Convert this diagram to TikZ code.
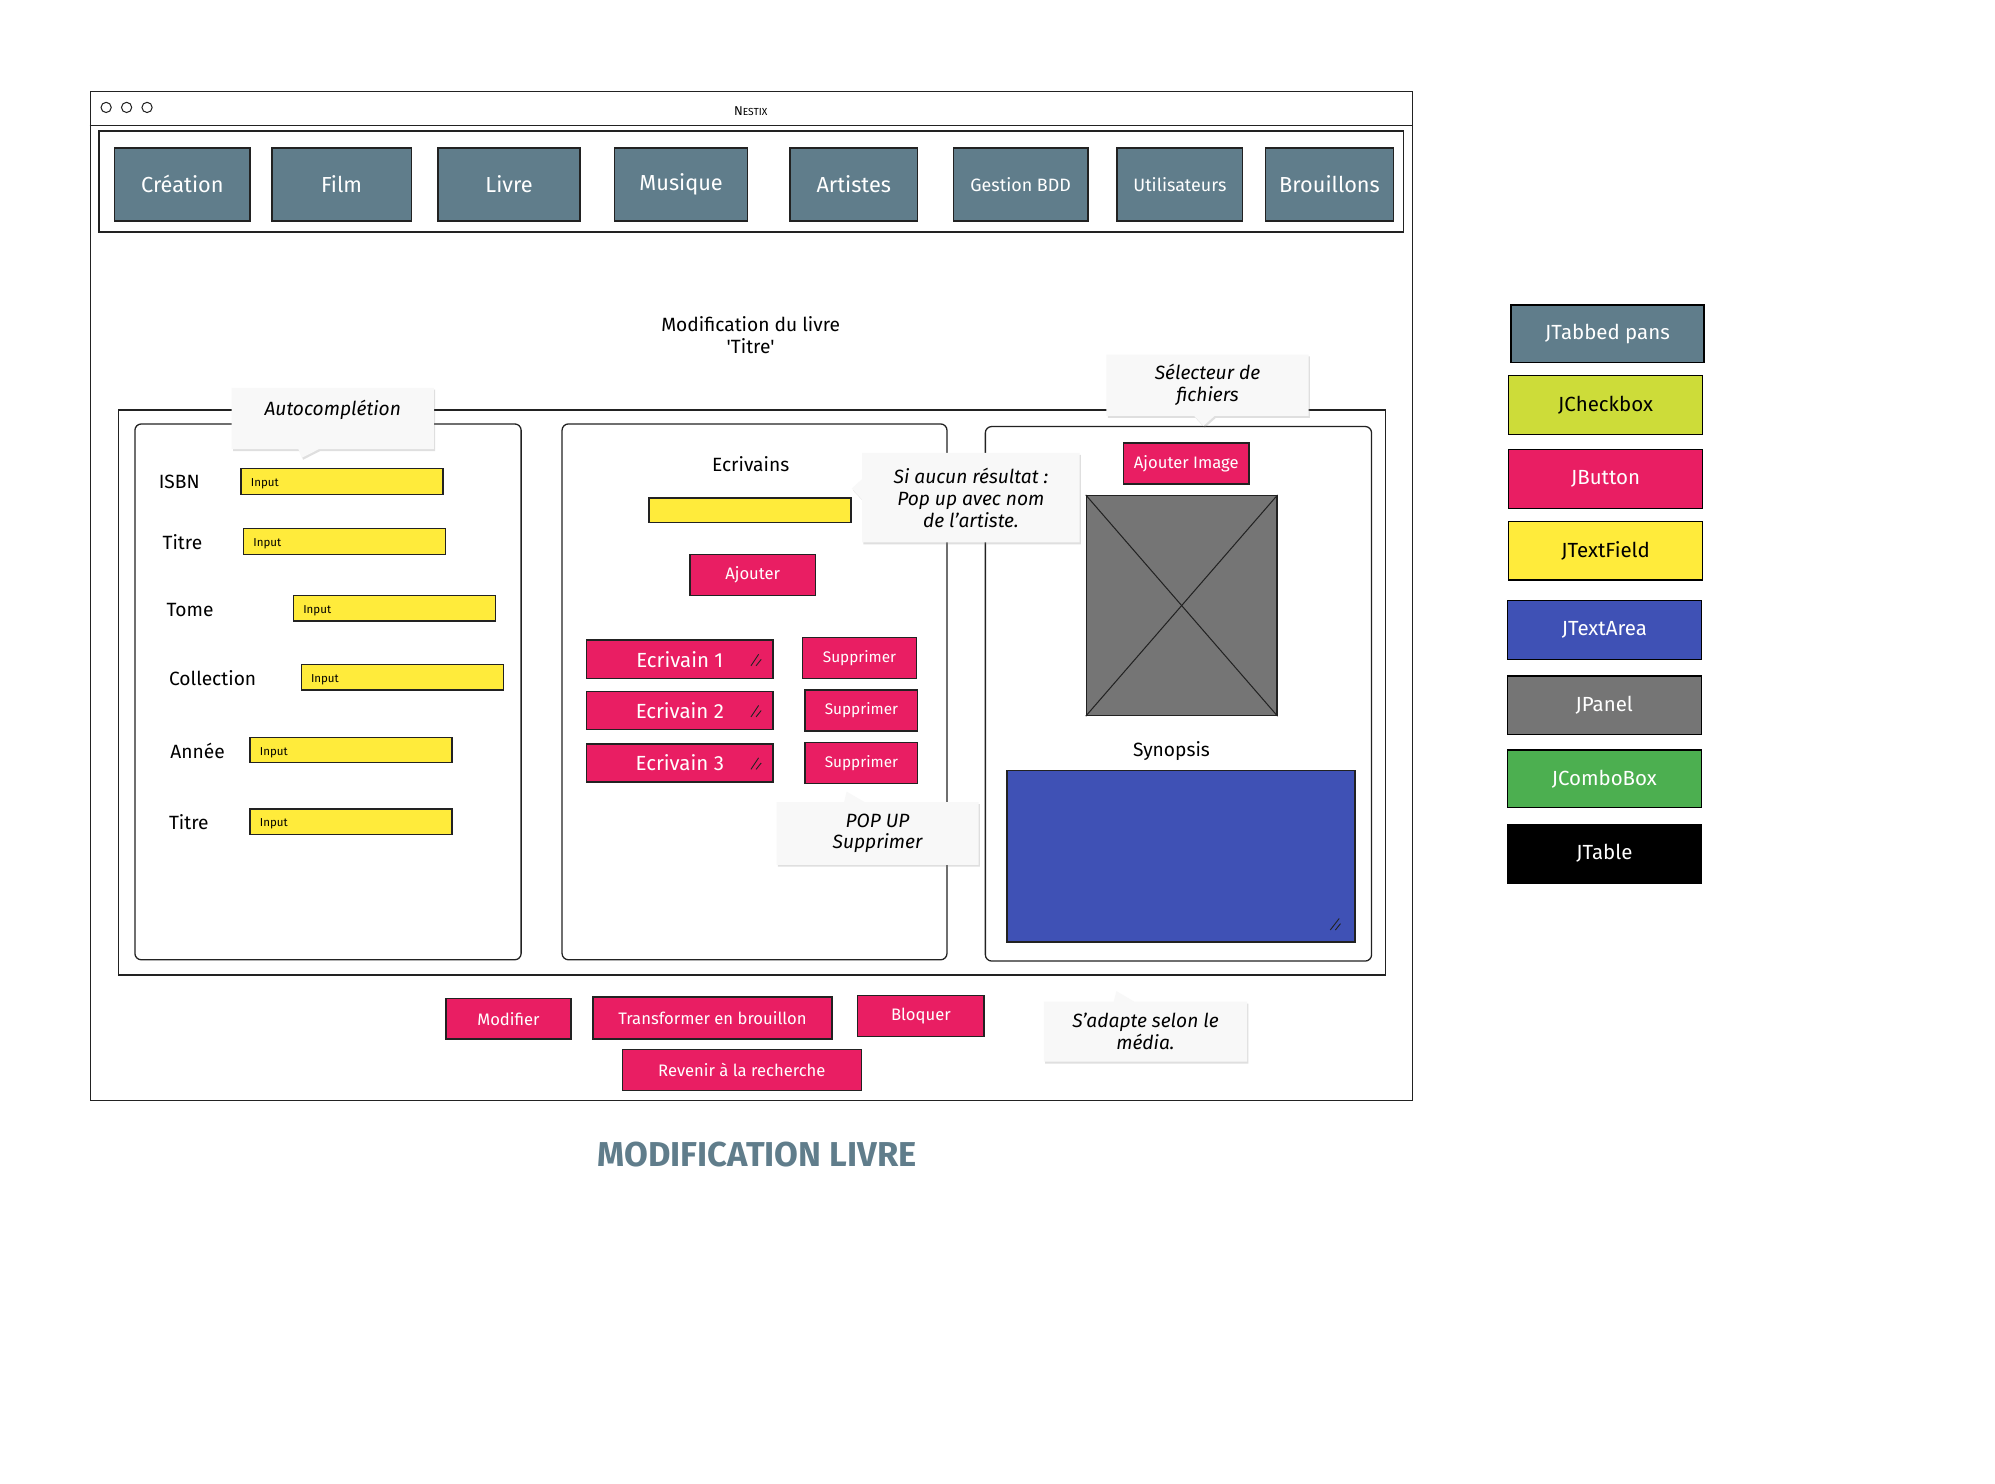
\documentclass[tikz,border=0pt]{standalone}
\usepackage{fontspec}
\setmainfont{Fira Sans}
\usetikzlibrary{shapes.callouts,shadows,calc}
\definecolor{tabc}{HTML}{607D8B}
\definecolor{btnc}{HTML}{E91E63}
\definecolor{fldc}{HTML}{FFEB3B}
\definecolor{chkc}{HTML}{CDDC39}
\definecolor{areac}{HTML}{3F51B5}
\definecolor{panc}{HTML}{757575}
\definecolor{cmbc}{HTML}{4CAF50}
\definecolor{linec}{HTML}{222222}
\definecolor{notec}{HTML}{F8F8F8}
\newcommand{\fsz}[1]{\fontsize{#1pt}{\dimexpr#1pt+2pt\relax}\selectfont}
\newcommand{\bxn}[6][]{\node[#1,anchor=north west,minimum width=#4pt,minimum height=#5pt,inner sep=0pt] (#2) at (#3) {#6};}
\tikzset{
  tab/.style={draw=linec,line width=1.2pt,fill=tabc,text=white,font=\fsz{17}},
  btn/.style={draw=linec,line width=1.2pt,fill=btnc,text=white,font=\fsz{13}},
  fld/.style={draw=linec,line width=1pt,fill=fldc},
  lbl/.style={font=\fsz{15},anchor=west,inner sep=0pt},
  inp/.style={font=\fsz{9},anchor=west,inner sep=0pt},
  panel/.style={draw=linec,line width=1pt,rounded corners=5pt},
  frame/.style={draw=linec,line width=1.2pt},
  note/.style={rectangle callout,fill=notec,callout pointer width=16pt,
    drop shadow={opacity=0.25,shadow xshift=1pt,shadow yshift=-1.5pt},
    font=\itshape\fsz{15},align=center},
  legend/.style={draw=black,line width=1pt,font=\fsz{16}},
  rsz/.style={draw=linec,line width=0.7pt},
}
\begin{document}
\begin{tikzpicture}[x=1pt,y=-1pt]
\useasboundingbox[fill=white] (0,0) rectangle (1560,1160);
% window
\bxn[frame]{win}{70,71}{1034}{789}{}
\coordinate (tbl) at (70,98);
\coordinate (tbr) at (1104,98);
\draw[frame] (tbl) -- (tbr);
\node[draw=linec,circle,minimum size=8pt,inner sep=0pt,line width=0.8pt] (c1) at (83,84) {};
\node[draw=linec,circle,minimum size=8pt,inner sep=0pt,line width=0.8pt] (c2) at (99,84) {};
\node[draw=linec,circle,minimum size=8pt,inner sep=0pt,line width=0.8pt] (c3) at (115,84) {};
\node[font=\fsz{10}] (ttl) at (587,87) {N{\fsz{8}ESTIX}};
% tab bar
\bxn[draw=linec,line width=1.2pt]{tabbar}{77,102}{1020}{79}{}
\bxn[tab]{t1}{89,115}{106}{57}{Création}
\bxn[tab]{t2}{212,115}{109}{57}{Film}
\bxn[tab]{t3}{342,115}{111}{57}{Livre}
\bxn[tab]{t4}{480,115}{104}{57}{Musique}
\bxn[tab]{t5}{617,115}{100}{57}{Artistes}
\bxn[tab,font=\fsz{14}]{t6}{745,115}{105}{57}{Gestion BDD}
\bxn[tab,font=\fsz{14}]{t7}{873,115}{98}{57}{Utilisateurs}
\bxn[tab]{t8}{989,115}{100}{57}{Brouillons}
% heading
\node[font=\fsz{15},align=center] (head) at (587,262) {Modification du livre\\\textquotesingle Titre\textquotesingle};
% panels
\bxn[frame,line width=1pt]{outer}{92,320}{991}{442}{}
\bxn[panel]{pL}{105,331}{302}{419}{}
\bxn[panel]{pM}{439,331}{301}{419}{}
\bxn[panel]{pR}{770,333}{302}{418}{}
% left fields
\node[lbl] (l1) at (124,377) {ISBN};
\node[lbl] (l2) at (127,424) {Titre};
\node[lbl] (l3) at (130,477) {Tome};
\node[lbl] (l4) at (132,530) {Collection};
\node[lbl] (l5) at (133,587) {Année};
\node[lbl] (l6) at (132,643) {Titre};
\bxn[fld]{f1}{188,366}{158}{20}{}
\bxn[fld]{f2}{190,413}{158}{20}{}
\bxn[fld]{f3}{229,465}{158}{20}{}
\bxn[fld]{f4}{235,519}{158}{20}{}
\bxn[fld]{f5}{195,576}{158}{20}{}
\bxn[fld]{f6}{195,632}{158}{20}{}
\foreach \f in {f1,f2,f3,f4,f5,f6}{\node[inp] (i\f) at ($(\f.west)+(8,2)$) {Input};}
% middle
\node[font=\fsz{15}] (ecr) at (587,363) {Ecrivains};
\bxn[fld]{fw}{507,389}{158}{19}{}
\bxn[btn]{bAj}{539,433}{98}{32}{Ajouter}
\bxn[btn,font=\fsz{16}]{e1}{458,500}{146}{30}{Ecrivain 1}
\bxn[btn,font=\fsz{16}]{e2}{458,540}{146}{30}{Ecrivain 2}
\bxn[btn,font=\fsz{16}]{e3}{458,581}{146}{30}{Ecrivain 3}
\bxn[btn,font=\fsz{12}]{s1}{627,498}{89}{32}{Supprimer}
\bxn[btn,font=\fsz{12}]{s2}{629,539}{88}{32}{Supprimer}
\bxn[btn,font=\fsz{12}]{s3}{629,580}{88}{32}{Supprimer}
\foreach \e in {e1,e2,e3}{
  \draw[rsz] ($(\e.east)+(-18,5)$) -- ++(6,-9);
  \draw[rsz] ($(\e.east)+(-14,5)$) -- ++(4,-5);
}
% right
\bxn[btn]{bImg}{878,346}{98}{32}{Ajouter Image}
\bxn[draw=linec,line width=1pt,fill=panc]{img}{849,387}{149}{172}{}
\draw[linec,line width=0.8pt] (img.north west) -- (img.south east);
\draw[linec,line width=0.8pt] (img.north east) -- (img.south west);
\node[font=\fsz{15}] (syn) at (916,587) {Synopsis};
\bxn[draw=linec,line width=1.2pt,fill=areac]{area}{787,602}{272}{134}{}
\draw[rsz] ($(area.south east)+(-20,-10)$) -- ++(7,-9);
\draw[rsz] ($(area.south east)+(-16,-10)$) -- ++(4,-5);
% bottom buttons
\bxn[btn]{bMod}{348,780}{98}{32}{Modifier}
\bxn[btn]{bTra}{463,779}{187}{33}{Transformer en brouillon}
\bxn[btn]{bBlo}{670,778}{99}{32}{Bloquer}
\bxn[btn]{bRev}{486,820}{187}{32}{Revenir à la recherche}
% callouts
\bxn[note,callout absolute pointer={(236,358)}]{n1}{181,303}{158}{48}{Autocomplétion\\\mbox{}}
\bxn[note,callout absolute pointer={(941,333)}]{n2}{865,277}{158}{48}{Sélecteur de\\fichiers}
\bxn[note,callout absolute pointer={(666,382)}]{n3}{674,354}{170}{70}{Si aucun résultat :\\Pop up avec nom\\de l’artiste.}
\bxn[note,callout absolute pointer={(662,619)}]{n4}{607,627}{158}{49}{POP UP\\Supprimer}
\bxn[note,callout absolute pointer={(873,775)}]{n5}{816,783}{159}{47}{S’adapte selon le\\média.}
% title
\node[font=\bfseries\fsz{27},text=tabc] (title) at (592,903) {MODIFICATION LIVRE};
% legend
\bxn[legend,fill=tabc,text=white]{g1}{1181,238}{151}{45}{JTabbed pans}
\bxn[legend,fill=chkc,text=black]{g2}{1179,293}{152}{46}{JCheckbox}
\bxn[legend,fill=btnc,text=white]{g3}{1179,351}{152}{46}{JButton}
\bxn[legend,fill=fldc,text=black]{g4}{1179,407}{152}{46}{JTextField}
\bxn[legend,fill=areac,text=white]{g5}{1178,469}{152}{46}{JTextArea}
\bxn[legend,fill=panc,text=white]{g6}{1178,528}{152}{46}{JPanel}
\bxn[legend,fill=cmbc,text=white]{g7}{1178,586}{152}{45}{JComboBox}
\bxn[legend,fill=black,text=white]{g8}{1178,644}{152}{46}{JTable}
\end{tikzpicture}
\end{document}
